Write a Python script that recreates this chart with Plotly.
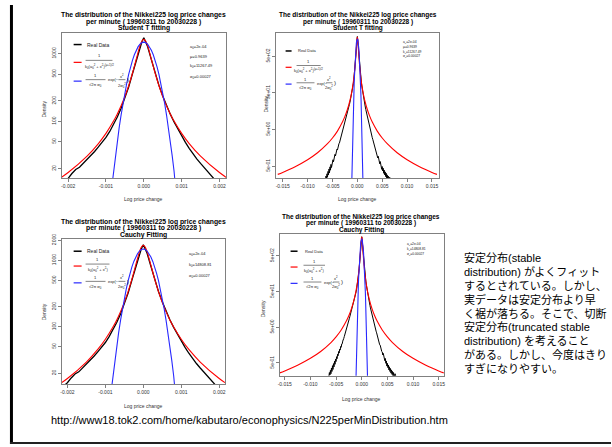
import plotly.graph_objects as go

W, H = 612, 447
FONT = "Liberation Sans, Arial, sans-serif"
JFONT = "Liberation Sans, Noto Sans CJK JP, sans-serif"

# ---------------- data ----------------
real_x = [-0.0064, -0.0063, -0.0062, -0.0061, -0.0060, -0.0059, -0.0058, -0.0057, -0.0056, -0.0055,
          -0.0054, -0.0053, -0.0052, -0.0051, -0.0050, -0.0049, -0.0048, -0.0047, -0.0046, -0.0045,
          -0.0044, -0.0043, -0.0042, -0.0041, -0.0040, -0.0039, -0.0038, -0.0037, -0.0036, -0.0035,
          -0.0034, -0.0033, -0.0032, -0.0031, -0.0030, -0.0029, -0.0028, -0.0027, -0.0026, -0.0025,
          -0.0024, -0.0023, -0.0022, -0.0021, -0.0020, -0.0019, -0.0018, -0.0017, -0.0016, -0.0015,
          -0.0014, -0.0013, -0.0012, -0.0011, -0.0010, -0.0009, -0.0008, -0.0007, -0.0006, -0.0005,
          -0.0004, -0.0003, -0.0002, -0.0001, -0.00005, 0.0, 0.00005, 0.0001, 0.0002, 0.0003,
          0.0004, 0.0005, 0.0006, 0.0007, 0.0008, 0.0009, 0.0010, 0.0011, 0.0012, 0.0013,
          0.0014, 0.0015, 0.0016, 0.0017, 0.0018, 0.0019, 0.0020, 0.0021, 0.0022, 0.0023,
          0.0024, 0.0025, 0.0026, 0.0027, 0.0028, 0.0029, 0.0030, 0.0031, 0.0032, 0.0033,
          0.0034, 0.0035, 0.0036, 0.0037, 0.0038, 0.0039, 0.0040, 0.0041, 0.0042, 0.0043,
          0.0044, 0.0045, 0.0046, 0.0047, 0.0048, 0.0049, 0.0050, 0.0051, 0.0052, 0.0053,
          0.0054, 0.0055, 0.0056, 0.0057, 0.0058, 0.0059, 0.0060, 0.0061, 0.0062, 0.0063,
          0.0065, 0.0067]
real_y = [0.21, 0.27, 0.23, 0.31, 0.25, 0.36, 0.29, 0.42, 0.33, 0.48,
          0.39, 0.56, 0.46, 0.64, 0.55, 0.75, 0.66, 0.88, 0.80, 1.05,
          0.95, 1.22, 1.15, 1.45, 1.38, 1.70, 1.72, 2.05, 2.15, 2.45,
          2.75, 3.05, 3.5, 3.9, 4.4, 5.0, 5.6, 6.3, 7.1, 8.0,
          9.0, 10.2, 11.5, 13.0, 14.4, 17.0, 19.5, 21.0, 24.0, 27.0,
          31.0, 36.0, 42.0, 49.0, 58.0, 71.0, 89.0, 116, 156, 218,
          322, 505, 805, 1260, 1500, 1720, 1490, 1275, 815, 515,
          340, 238, 172, 128, 98, 77, 61, 49, 40, 33,
          28, 24, 20.5, 17.5, 15.0, 13.0, 11.5, 10.2, 9.0, 7.9,
          6.9, 6.0, 5.2, 4.6, 3.9, 3.5, 3.0, 2.7, 2.4, 2.05,
          1.95, 1.62, 1.58, 1.30, 1.28, 1.05, 1.02, 0.84, 0.93, 0.70,
          0.79, 0.58, 0.67, 0.49, 0.57, 0.41, 0.49, 0.37, 0.44, 0.32,
          0.39, 0.29, 0.35, 0.26, 0.32, 0.24, 0.29, 0.22, 0.27, 0.21,
          0.25, 0.20]

fit_x = [-0.016, -0.015, -0.0125, -0.010, -0.008, -0.006, -0.005, -0.004, -0.003, -0.0025,
         -0.002, -0.0015, -0.0012, -0.001, -0.0008, -0.0007, -0.0006, -0.0005, -0.0004, -0.0003,
         -0.0002, -0.0001, -0.00005, 0.0, 0.00005, 0.0001, 0.0002, 0.0003, 0.0004, 0.0005,
         0.0006, 0.0007, 0.0008, 0.001, 0.0012, 0.0015, 0.002, 0.0025, 0.003, 0.004,
         0.005, 0.006, 0.008, 0.010, 0.0125, 0.015, 0.016]
student_y = [0.299, 0.339, 0.485, 0.751, 1.16, 2.05, 2.93, 4.53, 7.96, 11.4,
             17.6, 30.7, 47.1, 66.5, 101, 129, 170, 233, 336, 513,
             826, 1311, 1537, 1631, 1537, 1311, 826, 513, 336, 233,
             170, 129, 101, 66.5, 47.1, 30.7, 17.6, 11.4, 7.96, 4.53,
             2.93, 2.05, 1.16, 0.751, 0.485, 0.339, 0.299]
cauchy_y = [0.264, 0.300, 0.432, 0.675, 1.05, 1.87, 2.70, 4.21, 7.47, 10.7,
            16.7, 29.5, 45.6, 64.9, 99.3, 127, 169, 233, 338, 520,
            844, 1351, 1589, 1688, 1589, 1351, 844, 520, 338, 233,
            169, 127, 99.3, 64.9, 45.6, 29.5, 16.7, 10.7, 7.47, 4.21,
            2.70, 1.87, 1.05, 0.675, 0.432, 0.300, 0.264]

gauss_x = [-0.00125, -0.0012, -0.0011, -0.001, -0.0009, -0.00085, -0.0008, -0.00075, -0.0007, -0.00065,
           -0.0006, -0.00055, -0.0005, -0.00045, -0.0004, -0.00035, -0.0003, -0.00025, -0.0002, -0.00015,
           -0.0001, -0.00005, 0.0, 0.00005, 0.0001, 0.00015, 0.0002, 0.00025, 0.0003, 0.00035,
           0.0004, 0.00045, 0.0005, 0.00055, 0.0006, 0.00065, 0.0007, 0.00075, 0.0008, 0.00085,
           0.0009, 0.001, 0.0011, 0.0012, 0.00125]
gauss_y = [0.0327, 0.076, 0.368, 1.553, 5.71, 10.41, 18.35, 31.2, 51.3, 81.5,
           125.1, 185.6, 266, 368.5, 493, 638, 797, 962, 1123, 1267,
           1380, 1453, 1478, 1453, 1380, 1267, 1123, 962, 797, 638,
           493, 368.5, 266, 185.6, 125.1, 81.5, 51.3, 31.2, 18.35, 10.41,
           5.71, 1.553, 0.368, 0.076, 0.0327]

x_ticks_narrow = [-0.002, -0.001, 0.0, 0.001, 0.002]
x_text_narrow = ["-0.002", "-0.001", "0.000", "0.001", "0.002"]
x_ticks_wide = [-0.015, -0.010, -0.005, 0.0, 0.005, 0.010, 0.015]
x_text_wide = ["-0.015", "-0.010", "-0.005", "0.000", "0.005", "0.010", "0.015"]
y_ticks_tl = [20, 50, 100, 200, 500, 1000]
y_ticks_bl = [20, 50, 100, 200, 500, 1000, 2000]
y_ticks_wide = [0.5, 5, 50, 500]
y_text_wide = ["5e-01", "5e+00", "5e+01", "5e+02"]

title1 = "The distribution of the Nikkei225 log price changes"
title2 = "per minute ( 19960311 to 20030228 )"
st_params = ["a<sub>0</sub>=2e-04", "μ=0.9639", "k<sub>0</sub>=11267.49", "σ<sub>0</sub>=0.00027"]
ca_params = ["a<sub>0</sub>=2e-04", "k<sub>0</sub>=14808.81", "σ<sub>0</sub>=0.00027"]

jp_lines = ["安定分布(stable",
            "distribution) がよくフィット",
            "するとされている。しかし、",
            "実データは安定分布より早",
            "く裾が落ちる。そこで、切断",
            "安定分布(truncated stable",
            "distribution) を考えること",
            "がある。しかし、今度はきり",
            "すぎになりやすい。"]
url = "http://www18.tok2.com/home/kabutaro/econophysics/N225perMinDistribution.htm"

# ---------------- layout helpers ----------------
fig = go.Figure()
annotations = []
shapes = []


def txt(x, y, s, size, xanchor="left", yanchor="middle", angle=0, color="#222", family=FONT):
    annotations.append(dict(x=x / W, y=1 - y / H, xref="paper", yref="paper", text=s,
                            showarrow=False, xanchor=xanchor, yanchor=yanchor, textangle=angle,
                            borderpad=0, font=dict(size=size, color=color, family=family)))


def hline(x0, x1, y, color, width):
    shapes.append(dict(type="line", xref="paper", yref="paper", x0=x0 / W, x1=x1 / W,
                       y0=1 - y / H, y1=1 - y / H, line=dict(color=color, width=width)))


def vline(x, y0, y1, color, width):
    shapes.append(dict(type="line", xref="paper", yref="paper", x0=x / W, x1=x / W,
                       y0=1 - y0 / H, y1=1 - y1 / H, line=dict(color=color, width=width)))


panels = [
    dict(box=(60, 225, 28, 175), xr=[-0.00217, 0.00217], yr=[1.164, 3.309], wide=False,
         cauchy=False, yt=y_ticks_tl, ytt=[str(v) for v in y_ticks_tl]),
    dict(box=(275.5, 438.7, 28, 175), xr=[-0.01632, 0.01632], yr=[-0.624, 3.339], wide=True,
         cauchy=False, yt=y_ticks_wide, ytt=y_text_wide),
    dict(box=(60, 224, 236.7, 383.3), xr=[-0.00215, 0.00215], yr=[1.139, 3.32], wide=False,
         cauchy=True, yt=y_ticks_bl, ytt=[str(v) for v in y_ticks_bl]),
    dict(box=(279, 444, 231.7, 375), xr=[-0.016, 0.016], yr=[-0.66, 3.31], wide=True,
         cauchy=True, yt=y_ticks_wide, ytt=y_text_wide),
]

layout_axes = {}
for i, p in enumerate(panels, start=1):
    sfx = "" if i == 1 else str(i)
    x0, x1, y0, y1 = p["box"]
    common = dict(showline=True, mirror=True, linecolor="#808080", linewidth=1,
                  ticks="outside", ticklen=3, tickwidth=0.8, tickcolor="#808080",
                  showgrid=False, zeroline=False, tickfont=dict(size=5, color="#333", family=FONT))
    layout_axes["xaxis" + sfx] = dict(domain=[x0 / W, x1 / W], range=p["xr"], anchor="y" + sfx,
                                      tickvals=x_ticks_wide if p["wide"] else x_ticks_narrow,
                                      ticktext=x_text_wide if p["wide"] else x_text_narrow,
                                      tickangle=0, **common)
    layout_axes["yaxis" + sfx] = dict(domain=[1 - y1 / H, 1 - y0 / H], type="log", range=p["yr"],
                                      anchor="x" + sfx, tickvals=p["yt"], ticktext=p["ytt"],
                                      tickangle=-90, **common)
    xa, ya = "x" + sfx, "y" + sfx
    bw = 1.0 if p["wide"] else 1.3
    fig.add_trace(go.Scatter(x=real_x, y=real_y, mode="lines", xaxis=xa, yaxis=ya,
                             line=dict(color="black", width=bw), showlegend=False, hoverinfo="skip"))
    fig.add_trace(go.Scatter(x=fit_x, y=cauchy_y if p["cauchy"] else student_y, mode="lines",
                             xaxis=xa, yaxis=ya, line=dict(color="rgb(255,0,0)", width=1.1, shape="spline"),
                             showlegend=False, hoverinfo="skip"))
    fig.add_trace(go.Scatter(x=gauss_x, y=gauss_y, mode="lines", xaxis=xa, yaxis=ya,
                             line=dict(color="rgb(40,40,255)", width=1.1),
                             showlegend=False, hoverinfo="skip"))

# titles
for cx, ys, t3, ts in [(142.5, (10, 16.7, 23.7), "Student T fitting", 6.8),
                       (357.5, (10, 16.7, 23.7), "Student T fitting", 6.5),
                       (142, (219, 226, 233), "Cauchy Fitting", 6.8),
                       (361, (214, 220.5, 227.5), "Cauchy Fitting", 6.5)]:
    for y, t in zip(ys, (title1, title2, t3)):
        txt(cx, y, "<b>" + t + "</b>", ts, xanchor="center", color="black")

# axis titles
for (x, y) in [(142.5, 196), (357, 196), (142, 406), (361, 398.5)]:
    txt(x, y, "Log price change", 5, xanchor="center", color="#333")
for (x, y) in [(42, 105), (265, 100), (42, 310), (262, 307)]:
    txt(x, y, "Density", 5, xanchor="center", angle=-90, color="#333")


# legends
def legend(lx0, lx1, tx, y_real, y_red, y_blue, s, cauchy):
    fs = 4
    hline(lx0, lx1, y_real, "black", 1.5)
    txt(tx, y_real, "Real Data", 5 if s == 1 else 4)
    hline(lx0, lx1, y_red, "rgb(255,0,0)", 1.2)
    bw = (24 if cauchy else 27) * s
    txt(tx + bw / 2, y_red - 6.5 * s, "1", fs, xanchor="center")
    hline(tx, tx + bw, y_red - 2 * s, "#333", 0.6)
    den = ("k<sub>0</sub>(a<sub>0</sub><sup>2</sup> + x<sup>2</sup>)" if cauchy else
           "k<sub>0</sub>(a<sub>0</sub><sup>2</sup> + x<sup>2</sup>)<sup>(μ+1)/2</sup>")
    txt(tx + bw / 2, y_red + 3.8 * s, den, fs, xanchor="center")
    hline(lx0, lx1, y_blue, "rgb(40,40,255)", 1.2)
    gb = 20 * s
    txt(tx + gb / 2, y_blue - 5.5 * s, "1", fs, xanchor="center")
    hline(tx, tx + gb, y_blue - 1.5 * s, "#333", 0.6)
    txt(tx + gb / 2, y_blue + 4 * s, "√2π σ<sub>0</sub>", fs, xanchor="center")
    txt(tx + 21.5 * s, y_blue - 1.2 * s, "exp(−", fs)
    txt(tx + 36.5 * s, y_blue - 5.5 * s, "x<sup>2</sup>", fs, xanchor="center")
    hline(tx + 33 * s, tx + 40 * s, y_blue - 1.5 * s, "#333", 0.6)
    txt(tx + 36.5 * s, y_blue + 4 * s, "2σ<sub>0</sub><sup>2</sup>", fs, xanchor="center")
    txt(tx + 40.5 * s, y_blue - 1.2 * s, ")", 6)


legend(72, 80, 84, 40, 58, 77, 1.0, False)
legend(285, 291, 296, 46.5, 63, 80, 0.9, False)
legend(72, 80, 84, 249, 264, 281, 1.0, True)
legend(290, 297, 303, 249, 265, 281.5, 0.9, True)

# fit parameters
for x, ys, params, fs in [(188, (42, 52, 62, 73), st_params, 4),
                          (401.7, (37.5, 42.3, 47.1, 51.9), st_params, 3.3),
                          (187, (251.7, 263.3, 274), ca_params, 4),
                          (406, (241.8, 246.6, 251.4), ca_params, 3.3)]:
    for y, t in zip(ys, params):
        txt(x, y, t, fs)

# Japanese explanation
for k, line in enumerate(jp_lines):
    txt(463, 256 + 13.9 * k, line, 11, color="black", family=JFONT)

# source URL
txt(48, 420, url, 11, color="black", family=FONT)

# slide frame
vline(9.5, 0, 444, "black", 3)
hline(8, 612, 443, "#222", 2)

fig.update_layout(width=W, height=H, margin=dict(l=0, r=0, t=0, b=0), autosize=False,
                  paper_bgcolor="white", plot_bgcolor="white", showlegend=False,
                  annotations=annotations, shapes=shapes, **layout_axes)

fig.write_html("out.html", config={"displayModeBar": False},
               post_script="document.body.style.margin='0';document.body.style.overflow='hidden';")
